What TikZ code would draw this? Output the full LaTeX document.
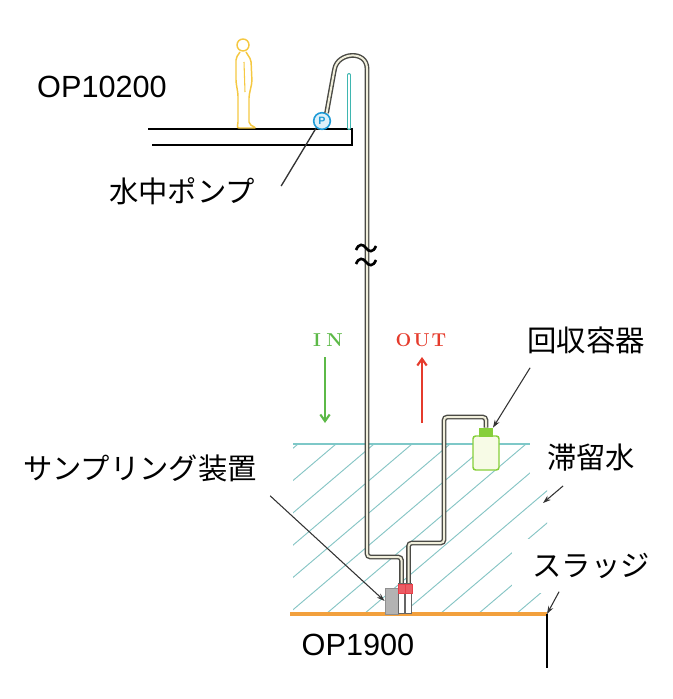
\documentclass[tikz,border=0pt]{standalone}
\usepackage{fontspec}
\setsansfont{Liberation Sans}
\newfontfamily\jp{Noto Sans CJK JP}
\usetikzlibrary{arrows.meta}

\definecolor{hoseline}{HTML}{4A4A45}
\definecolor{hosefill}{HTML}{F1EFDC}
\definecolor{tubeteal}{HTML}{3FB6B0}
\definecolor{manyellow}{HTML}{F5C842}
\definecolor{pumpblue}{HTML}{1E9BD7}
\definecolor{hatchteal}{HTML}{86C5C5}
\definecolor{waterteal}{HTML}{7EC8C8}
\definecolor{sludgeorange}{HTML}{F2A03D}
\definecolor{bottlegreen}{HTML}{86CF3A}
\definecolor{bottlefill}{HTML}{F7FBE6}
\definecolor{devicegray}{HTML}{B3B3B3}
\definecolor{capred}{HTML}{E8404A}
\definecolor{ingreen}{HTML}{5CB947}
\definecolor{outred}{HTML}{E53B2C}

\begin{document}
\begin{tikzpicture}
[x=0.75pt,y=-0.75pt,
pipe/.style={draw=hoseline,double=hosefill,double distance=1.5pt,line width=1.05pt,rounded corners=2.5pt},
tube/.style={draw=tubeteal,double=white,double distance=1.2pt,line width=0.9pt,line cap=round},
leader/.style={draw=black!80,line width=0.8pt},
tip/.style={-{Stealth[length=6pt,width=4pt]}},
lbl/.style={font=\jp\fontsize{22}{22}\selectfont,inner sep=0pt},
oplbl/.style={font=\sffamily\fontsize{23}{23}\selectfont,inner sep=0pt},
flowlbl/.style={font=\bfseries\fontsize{14}{14}\selectfont,inner sep=0pt},
flow/.style={line width=1.6pt,-{Straight Barb[length=5pt,width=7pt]}},
hatchline/.style={draw=hatchteal,line width=0.7pt},
pumpball/.style={circle,draw=pumpblue,fill=pumpblue!15,line width=1.2pt,minimum size=12.5pt,inner sep=0pt,
  text=pumpblue,font=\sffamily\bfseries\fontsize{8}{8}\selectfont},
bottle/.style={draw=bottlegreen,fill=bottlefill,line width=1.1pt,rounded corners=2pt,minimum width=19.5pt,minimum height=25.5pt,inner sep=0pt},
bottlecap/.style={draw=bottlegreen,fill=bottlegreen,minimum width=10pt,minimum height=6pt,inner sep=0pt},
sampler/.style={draw=devicegray!80!black,fill=devicegray,minimum width=10pt,minimum height=19.5pt,inner sep=0pt},
sampletube/.style={draw=black!60,fill=white,line width=0.6pt,minimum width=5pt,minimum height=23pt,inner sep=0pt},
redcap/.style={draw=capred,fill=capred!85,minimum width=5.5pt,minimum height=7pt,inner sep=0pt}]

\useasboundingbox (0,0) rectangle (673,699);

% hatched water body
\begin{scope}
\clip (293,444) rectangle (547,614);
\foreach \x in {60,98,...,560}
  \draw[hatchline] (\x,614) -- ++(200,-170);
\end{scope}
\draw[waterteal,line width=0.9pt] (293,444) -- (547,444);

% sludge level and wall
\coordinate (edge) at (547,614);
\coordinate (wall-foot) at (547,668);
\draw[sludgeorange,line width=2.8pt] (290,614) -- (edge);
\draw[line width=1pt] (edge) -- (wall-foot);

% floor at the top
\draw[line width=1pt] (148,129) -- (352,129) -- (352,145) -- (152,145);

% man standing on the floor
\draw[manyellow,line width=1.1pt] (243,45) circle[radius=4.5pt];
\draw[manyellow,line width=1.1pt,rounded corners=1.5pt] (240,52) -- (236,58) -- (236,82) -- (238,94)
  -- (238,124) -- (237,128) -- (256,128) -- (249,124) -- (249,96) -- (252,82) -- (251,60) -- (246,52);
\draw[manyellow,line width=0.8pt] (244,62) -- (245,92);

% pump and hoses
\node[pumpball] (pump) at (322,121) {P};
\draw[tube] (349,128) -- (349,75);
\node[bottle] (bottle) at (486,453) {};
\node[bottlecap] (cap) at (486,432) {};
\draw[pipe] (pump.60) -- (334,72) .. controls (338,52) and (367,50) .. (367,72)
  -- (367,557) -- (401.5,557) -- (401.5,584);
\draw[pipe] (408.5,584) -- (408.5,543) -- (444,543) -- (444,417) -- (486,417) -- (cap.north);

% break in the hose
\foreach \y in {248,262}
  \draw[line width=2pt] (356,\y+2) .. controls (359,\y-5) and (363,\y-4) .. (366,\y)
    .. controls (369,\y+4) and (373,\y+5) .. (376,\y-2);

% sampling device
\node[sampler] (device) at (391.5,601) {};
\foreach \x/\n in {401.5/a,408.5/b} {
  \node[sampletube] (tube-\n) at (\x,598.5) {};
  \node[redcap] (cap-\n) at (\x,589) {};
}

% flow direction
\node[flowlbl,text=ingreen] (in-lbl) at (328,340) {I\hspace{4pt}N};
\node[flowlbl,text=outred] (out-lbl) at (421,340) {O\hspace{1.5pt}U\hspace{1.5pt}T};
\draw[flow,ingreen] (325,357) -- (325,423);
\draw[flow,outred] (422,423) -- (422,357);

% labels
\node[oplbl] (op-top) at (102,87) {OP10200};
\node[oplbl] (op-bottom) at (358,645) {OP1900};
\node[lbl] (pump-lbl) at (182,191) {水中ポンプ};
\node[lbl] (bottle-lbl) at (586,340) {回収容器};
\node[lbl,fill=white,inner xsep=12.5pt,inner ysep=10.5pt] (water-lbl) at (591,458) {滞留水};
\node[lbl,fill=white,inner xsep=15pt,inner ysep=11pt] (sludge-lbl) at (591,566) {スラッジ};
\node[lbl] (sampler-lbl) at (140,468) {サンプリング装置};

% leaders
\coordinate (water-tip) at (543,503);
\draw[leader,line width=1pt] (pump-lbl.east) ++(26,-5) -- (pump.230);
\draw[leader,tip] (bottle-lbl.south west) ++(3,14) -- (cap.north east);
\draw[leader,tip] (water-lbl.south west) ++(33,0) -- (water-tip);
\draw[leader,tip] (sludge-lbl.south west) ++(47,-2) -- (edge);
\draw[leader,tip] (sampler-lbl.south east) ++(13,14) -- (device.west);
\end{tikzpicture}
\end{document}
